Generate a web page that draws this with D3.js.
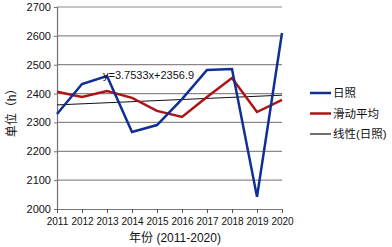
<!DOCTYPE html>
<html>
<head>
<meta charset="utf-8">
<script src="https://cdn.jsdelivr.net/npm/d3@7"></script>
<style>
  body { margin: 0; background: #fff; }
  text { font-family: "Liberation Sans", Arial, "Noto Sans CJK SC", sans-serif; fill: #111; }
</style>
</head>
<body>
<div class="content"></div>
<script>
var years = [2011, 2012, 2013, 2014, 2015, 2016, 2017, 2018, 2019, 2020];
var sunshine = [2329, 2433, 2461, 2267, 2291, 2381, 2482, 2485, 2042, 2610];
var movingAvg = [2406, 2388, 2409, 2385, 2340, 2319, 2388, 2454, 2336, 2378];
var trendYears = [2011, 2020];
var trendValues = [2360.7, 2394.4];
var yTicks = [2000, 2100, 2200, 2300, 2400, 2500, 2600, 2700];
var equation = 'y=3.7533x+2356.9';
var legendNames = ['日照', '滑动平均', '线性(日照)'];
var colors = ['#0f2f95', '#ad1515', '#111111'];

var width = 392, height = 247;
var chart = { left: 57, right: 282, top: 7, bottom: 209 };

var svg = d3.select('.content').append('svg')
    .attr('width', width)
    .attr('height', height);

var xScale = d3.scalePoint().domain(years).range([chart.left, chart.right]);
var yScale = d3.scaleLinear().domain([2000, 2700]).range([chart.bottom, chart.top]);

// gridlines
svg.append('g').selectAll('line')
    .data(yTicks.slice(1))
    .enter().append('line')
    .attr('x1', chart.left).attr('x2', chart.right)
    .attr('y1', function(d) { return yScale(d); })
    .attr('y2', function(d) { return yScale(d); })
    .style('stroke', '#8e8787')
    .style('stroke-width', '1.2px');

// y axis
var yAxis = svg.append('g')
    .attr('transform', 'translate(' + chart.left + ',0)')
    .call(d3.axisLeft(yScale).tickValues(yTicks).tickSize(3).tickFormat(d3.format('d')));
yAxis.select('.domain').style('stroke', '#7a7373').style('stroke-width', '1.2px');
yAxis.selectAll('.tick line').style('stroke', '#7a7373');
yAxis.selectAll('text').style('font-size', '11px').attr('x', -6);

// x axis
var xAxis = svg.append('g')
    .attr('transform', 'translate(0,' + chart.bottom + ')')
    .call(d3.axisBottom(xScale).tickSize(4).tickSizeOuter(0));
xAxis.select('.domain').style('stroke', '#7a7373').style('stroke-width', '1.2px');
xAxis.selectAll('.tick line').style('stroke', '#555');
xAxis.selectAll('text').style('font-size', '10px').attr('y', 9);

var line = d3.line()
    .x(function(d, i) { return xScale(years[i]); })
    .y(function(d) { return yScale(d); });

var trendLine = d3.line()
    .x(function(d, i) { return xScale(trendYears[i]); })
    .y(function(d) { return yScale(d); });

svg.append('path')
    .attr('d', trendLine(trendValues))
    .style('fill', 'none')
    .style('stroke', colors[2])
    .style('stroke-width', '1px');

svg.append('path')
    .attr('d', line(movingAvg))
    .style('fill', 'none')
    .style('stroke', colors[1])
    .style('stroke-width', '2.5px');

svg.append('path')
    .attr('d', line(sunshine))
    .style('fill', 'none')
    .style('stroke', colors[0])
    .style('stroke-width', '2.5px');

// equation label
svg.append('text')
    .attr('x', 103).attr('y', 79)
    .style('font-size', '11px')
    .text(equation);

// axis titles
svg.append('text')
    .attr('x', 175).attr('y', 242)
    .attr('text-anchor', 'middle')
    .style('font-size', '12px')
    .text('年份 (2011-2020)');

svg.append('text')
    .attr('transform', 'translate(16,110) rotate(-90)')
    .attr('text-anchor', 'middle')
    .style('font-size', '12px')
    .text('单位（h）');

// legend
var legend = svg.append('g').selectAll('g')
    .data(legendNames)
    .enter().append('g')
    .attr('transform', function(d, i) { return 'translate(310,' + (93 + i * 20.5) + ')'; });
legend.append('line')
    .attr('x1', 0).attr('x2', 21)
    .style('stroke', function(d, i) { return colors[i]; })
    .style('stroke-width', function(d, i) { return i < 2 ? '2.5px' : '1.2px'; });
legend.append('text')
    .attr('x', 23).attr('y', 4)
    .style('font-size', '11.5px')
    .text(function(d) { return d; });
</script>
</body>
</html>
